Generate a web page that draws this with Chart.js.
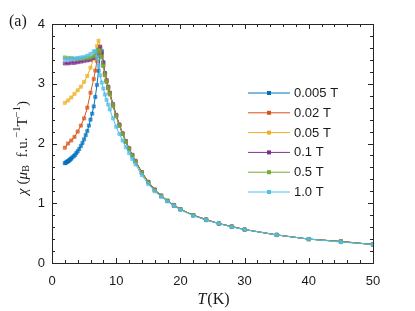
<!DOCTYPE html>
<html>
<head>
<meta charset="utf-8">
<script src="https://cdn.jsdelivr.net/npm/chart.js@4.4.0/dist/chart.umd.min.js"></script>
<style>
  html, body { margin: 0; padding: 0; background: #fff; }
</style>
</head>
<body>
<canvas id="chiChart" width="415" height="311"></canvas>
<script>
// temperatures (K) for the 0.005 T run (denser at low T)
var temps005 = [2.0, 2.1, 2.2, 2.3, 2.4, 2.5, 2.6, 2.7, 2.8, 2.9, 3.0, 3.2, 3.4, 3.6, 3.8, 4.0,
  4.25, 4.5, 4.75, 5, 5.25, 5.5, 5.75, 6, 6.25, 6.5, 6.75, 7, 7.25, 7.5, 7.75,
  8, 8.25, 8.5, 8.75, 9, 9.5, 10, 10.5, 11, 11.5, 12, 12.5, 13,
  14, 15, 16, 17, 18, 19, 20, 22, 24, 26, 28, 30, 35, 40, 45, 50];
var chi005 = [1.67, 1.68, 1.68, 1.69, 1.70, 1.70, 1.71, 1.72, 1.73, 1.74, 1.75, 1.77, 1.79, 1.81, 1.84, 1.87,
  1.91, 1.96, 2.01, 2.07, 2.14, 2.21, 2.30, 2.40, 2.50, 2.62, 2.78, 2.98, 3.22, 3.46, 3.55,
  3.36, 3.17, 3.05, 2.94, 2.84, 2.64, 2.46, 2.30, 2.16, 2.03, 1.91, 1.80, 1.70,
  1.51, 1.35, 1.22, 1.12, 1.04, 0.96, 0.90, 0.80, 0.72, 0.66, 0.61, 0.56, 0.47, 0.40, 0.36, 0.31];

// temperatures (K) for the other fields
var temps = [2, 2.5, 3, 3.5, 4, 4.5, 5, 5.5, 6, 6.5, 6.75, 7, 7.25, 7.5, 7.75,
  8, 8.25, 8.5, 8.75, 9, 9.5, 10, 10.5, 11, 11.5, 12, 12.5, 13,
  14, 15, 16, 17, 18, 19, 20, 22, 24, 26, 28, 30, 35, 40, 45, 50];
var chi002 = [1.93, 2.00, 2.05, 2.11, 2.20, 2.30, 2.42, 2.60, 2.85, 3.08, 3.22, 3.38, 3.52, 3.60, 3.48,
  3.30, 3.14, 3.03, 2.92, 2.82, 2.63, 2.46, 2.30, 2.16, 2.03, 1.91, 1.80, 1.70,
  1.51, 1.35, 1.22, 1.12, 1.04, 0.96, 0.90, 0.80, 0.72, 0.66, 0.61, 0.56, 0.47, 0.40, 0.36, 0.31];
var chi005b = [2.68, 2.72, 2.77, 2.83, 2.89, 2.95, 3.03, 3.13, 3.27, 3.42, 3.52, 3.63, 3.72, 3.62, 3.47,
  3.33, 3.17, 3.05, 2.94, 2.84, 2.65, 2.47, 2.31, 2.17, 2.04, 1.92, 1.81, 1.71,
  1.51, 1.35, 1.23, 1.13, 1.04, 0.97, 0.90, 0.80, 0.73, 0.66, 0.61, 0.56, 0.47, 0.40, 0.36, 0.31];
var chi01 = [3.34, 3.34, 3.35, 3.35, 3.36, 3.37, 3.38, 3.39, 3.40, 3.43, 3.45, 3.50, 3.57, 3.62, 3.52,
  3.35, 3.18, 3.06, 2.95, 2.85, 2.66, 2.48, 2.32, 2.17, 2.04, 1.92, 1.81, 1.71,
  1.52, 1.36, 1.23, 1.13, 1.04, 0.97, 0.90, 0.80, 0.73, 0.66, 0.61, 0.56, 0.47, 0.40, 0.36, 0.31];
var chi05 = [3.44, 3.43, 3.43, 3.42, 3.42, 3.42, 3.42, 3.43, 3.44, 3.46, 3.48, 3.52, 3.57, 3.55, 3.45,
  3.30, 3.15, 3.04, 2.93, 2.83, 2.64, 2.46, 2.30, 2.16, 2.03, 1.91, 1.80, 1.70,
  1.51, 1.35, 1.22, 1.12, 1.04, 0.96, 0.90, 0.80, 0.72, 0.66, 0.61, 0.56, 0.47, 0.40, 0.36, 0.31];
var chi10 = [3.41, 3.41, 3.41, 3.42, 3.43, 3.44, 3.45, 3.47, 3.50, 3.54, 3.55, 3.45, 3.30, 3.14, 3.02,
  2.92, 2.82, 2.73, 2.65, 2.57, 2.42, 2.28, 2.16, 2.05, 1.94, 1.84, 1.74, 1.65,
  1.47, 1.32, 1.20, 1.11, 1.03, 0.96, 0.89, 0.79, 0.72, 0.66, 0.60, 0.56, 0.47, 0.40, 0.35, 0.31];

var fieldLabels = ["0.005 T", "0.02 T", "0.05 T", "0.1 T", "0.5 T", "1.0 T"];
var colors = ["#0072BD", "#D95319", "#EDB120", "#7E2F8E", "#77AC30", "#4DBEEE"];
var fills = ["rgba(0,114,189,0.7)", "rgba(217,83,25,0.7)", "rgba(237,177,32,0.7)",
  "rgba(126,47,142,0.7)", "rgba(119,172,48,0.7)", "rgba(77,190,238,0.7)"];
var xTicks = [0, 10, 20, 30, 40, 50];
var yTicks = [0, 1, 2, 3, 4];

function pts(xs, ys) {
  return xs.map(function (x, i) { return { x: x, y: ys[i] }; });
}

var series = [
  pts(temps005, chi005), pts(temps, chi002), pts(temps, chi005b),
  pts(temps, chi01), pts(temps, chi05), pts(temps, chi10)
];

var datasets = series.map(function (d, i) {
  return {
    label: fieldLabels[i],
    data: d,
    showLine: true,
    borderColor: colors[i],
    backgroundColor: fills[i],
    borderWidth: 1,
    pointStyle: 'rect',
    pointRadius: 2.3,
    pointBorderWidth: 0.5,
    order: 5 - i
  };
});

var SANS = '"Liberation Sans", Arial, sans-serif';
var SERIF = '"Liberation Serif", "Times New Roman", serif';

// frame with inward ticks, legend and the LaTeX-like labels
var decorations = {
  id: 'decorations',
  afterDraw: function (chart) {
    var ctx = chart.ctx, a = chart.chartArea;
    var xs = chart.scales.x, ys = chart.scales.y;
    ctx.save();
    ctx.strokeStyle = '#262626';
    ctx.lineWidth = 1;
    ctx.strokeRect(a.left + 0.5, a.top + 0.5, a.right - a.left, a.bottom - a.top);

    ctx.beginPath();
    for (var v = 0; v <= 50; v += 2) {
      var px = Math.round(xs.getPixelForValue(v)) + 0.5;
      var len = (v % 10 === 0) ? 5 : 3;
      ctx.moveTo(px, a.bottom); ctx.lineTo(px, a.bottom - len);
      ctx.moveTo(px, a.top); ctx.lineTo(px, a.top + len);
    }
    for (var k = 0; k <= 20; k++) {
      var py = Math.round(ys.getPixelForValue(k * 0.2)) + 0.5;
      var l2 = (k % 5 === 0) ? 5 : 3;
      ctx.moveTo(a.left, py); ctx.lineTo(a.left + l2, py);
      ctx.moveTo(a.right, py); ctx.lineTo(a.right - l2, py);
    }
    ctx.stroke();

    // legend
    ctx.font = '13px ' + SANS;
    ctx.textBaseline = 'middle';
    chart.data.datasets.forEach(function (ds, i) {
      var y = 93 + i * 19.8;
      ctx.strokeStyle = ds.borderColor;
      ctx.lineWidth = 1;
      ctx.beginPath(); ctx.moveTo(248, y); ctx.lineTo(290, y); ctx.stroke();
      ctx.fillStyle = ds.borderColor;
      ctx.fillRect(267, y - 2, 4, 4);
      ctx.fillStyle = '#1a1a1a';
      ctx.fillText(ds.label, 294, y + 0.5);
    });

    // panel tag
    ctx.fillStyle = '#1a1a1a';
    ctx.font = '16px ' + SERIF;
    ctx.textAlign = 'left';
    ctx.fillText('(a)', 9, 22);

    // x title: T(K)
    ctx.font = 'italic 16px ' + SERIF;
    var wT = ctx.measureText('T').width;
    ctx.font = '16px ' + SERIF;
    var wK = ctx.measureText('(K)').width;
    var x0 = 213 - (wT + wK) / 2;
    ctx.font = 'italic 16px ' + SERIF;
    ctx.fillText('T', x0, 300);
    ctx.font = '16px ' + SERIF;
    ctx.fillText('(K)', x0 + wT + 1, 300);

    // y title: chi (mu_B f.u.^-1 T^-1)
    var parts = [
      { t: '\u03C7', f: 'italic 15px', dy: 0 },
      { t: ' (', f: '15px', dy: 0 },
      { t: '\u03BC', f: 'italic 15px', dy: 0 },
      { t: 'B', f: '10.5px', dy: 3 },
      { t: '  f.u.', f: '15px', dy: 0 },
      { t: '\u22121', f: '10.5px', dy: -6 },
      { t: 'T', f: '15px', dy: 0 },
      { t: '\u22121', f: '10.5px', dy: -6 },
      { t: ')', f: '15px', dy: 0 }
    ];
    var total = 0;
    parts.forEach(function (p) {
      ctx.font = p.f + ' ' + SERIF;
      p.w = ctx.measureText(p.t).width;
      total += p.w;
    });
    ctx.translate(23, 148);
    ctx.rotate(-Math.PI / 2);
    var cx = -total / 2;
    parts.forEach(function (p) {
      ctx.font = p.f + ' ' + SERIF;
      ctx.fillText(p.t, cx, p.dy);
      cx += p.w;
    });
    ctx.restore();
  }
};

var ctx = document.getElementById('chiChart').getContext('2d');
var chiChart = new Chart(ctx, {
  type: 'scatter',
  data: { datasets: datasets },
  options: {
    responsive: false,
    animation: false,
    layout: { padding: { top: 24, right: 42, bottom: 0, left: 0 } },
    plugins: { legend: { display: false }, tooltip: { enabled: false } },
    scales: {
      x: {
        type: 'linear', min: 0, max: 50,
        afterFit: function (s) { s.height = 48; },
        afterBuildTicks: function (s) { s.ticks = xTicks.map(function (v) { return { value: v }; }); },
        grid: { display: false, drawTicks: false },
        border: { display: false },
        ticks: { padding: 11, color: '#1a1a1a', font: { family: SANS, size: 13 }, maxRotation: 0 }
      },
      y: {
        type: 'linear', min: 0, max: 4,
        afterFit: function (s) { s.width = 52; },
        afterBuildTicks: function (s) { s.ticks = yTicks.map(function (v) { return { value: v }; }); },
        grid: { display: false, drawTicks: false },
        border: { display: false },
        ticks: { padding: 7, color: '#1a1a1a', font: { family: SANS, size: 13 } }
      }
    }
  },
  plugins: [decorations]
});
</script>
</body>
</html>
